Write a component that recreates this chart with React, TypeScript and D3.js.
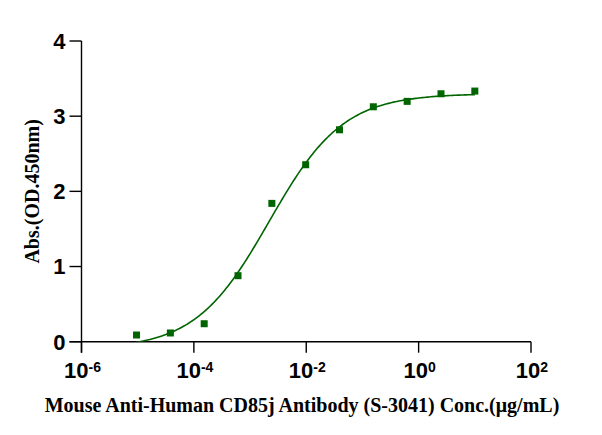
import React from 'react';
import * as d3 from 'd3';

// 4-fold dilution series, µg/mL
const concentrations = [
    0.0000095367, 0.0000381470, 0.000152588, 0.000610352, 0.00244141, 0.00976563,
    0.0390625, 0.15625, 0.625, 2.5, 10,
];
const absorbance = [0.089, 0.116, 0.239, 0.878, 1.84, 2.354, 2.819, 3.125, 3.197, 3.298, 3.334];

const xTickExponents = [-6, -4, -2, 0, 2];
const yTicks = [0, 1, 2, 3, 4];

// four-parameter logistic fit
const fitTop = 3.3;
const fitBottom = -0.1;
const fitLogEC50 = -2.66;
const fitHill = 0.66;

const width = 602;
const height = 435;
const green = '#006400';

const fourPL = (c: number) =>
    fitBottom + (fitTop - fitBottom) / (1 + Math.pow(10, fitHill * (fitLogEC50 - Math.log10(c))));

const App: React.FC = () => {
    const x = d3.scaleLog().domain([1e-6, 1e2]).range([81.5, 531]);
    const y = d3.scaleLinear().domain([0, 4]).range([341.7, 41]);

    const lo = Math.log10(d3.min(concentrations)!);
    const hi = Math.log10(d3.max(concentrations)!);
    const curveX = d3.range(0, 201).map(i => Math.pow(10, lo + ((hi - lo) * i) / 200));
    const line = d3
        .line<number>()
        .x(c => x(c))
        .y(c => y(fourPL(c)))
        .curve(d3.curveLinear);

    const tick = 12;
    const sq = 7;

    return (
        <svg
            width={width}
            height={height}
            style={{ position: 'absolute', left: 0, top: 0, background: '#fff' }}
        >
            <defs>
                <clipPath id="plot">
                    <rect x={x(1e-6)} y={0} width={x(1e2) - x(1e-6)} height={y(0)} />
                </clipPath>
            </defs>

            {/* axes */}
            <g stroke="#000" strokeWidth={1.4} fill="none">
                <line x1={x(1e-6)} x2={x(1e-6)} y1={y(4)} y2={y(0) + 11} />
                <line x1={x(1e-6) - tick} x2={x(1e2)} y1={y(0)} y2={y(0)} />
                {yTicks.map(t => (
                    <line key={t} x1={x(1e-6) - tick} x2={x(1e-6)} y1={y(t)} y2={y(t)} />
                ))}
                {xTickExponents.map(e => (
                    <line key={e} x1={x(10 ** e)} x2={x(10 ** e)} y1={y(0)} y2={y(0) + 11} />
                ))}
            </g>

            <g fontFamily="'Liberation Sans', Arial, sans-serif" fontWeight="bold" fill="#000">
                {yTicks.map(t => (
                    <text key={t} x={x(1e-6) - tick - 4} y={y(t)} dy="0.36em" textAnchor="end" fontSize={22}>
                        {t}
                    </text>
                ))}
                {xTickExponents.map(e => (
                    <text key={e} x={x(10 ** e) + 1} y={377.5} textAnchor="middle" fontSize={22}>
                        10
                        <tspan fontSize={14} dy={-6}>
                            {e < 0 ? `-${-e}` : `${e}`}
                        </tspan>
                    </text>
                ))}
            </g>

            {/* fitted curve */}
            <path
                d={line(curveX) ?? ''}
                fill="none"
                stroke={green}
                strokeWidth={1.6}
                clipPath="url(#plot)"
            />

            {/* data points */}
            {concentrations.map((c, i) => (
                <rect
                    key={i}
                    x={x(c) - sq / 2}
                    y={y(absorbance[i]) - sq / 2}
                    width={sq}
                    height={sq}
                    fill={green}
                />
            ))}

            <g fontFamily="'Liberation Serif', 'Times New Roman', serif" fontWeight="bold" fontSize={20} fill="#000">
                <text
                    transform={`translate(39,${(y(0) + y(4)) / 2}) rotate(-90)`}
                    textAnchor="middle"
                >
                    Abs.(OD.450nm)
                </text>
                <text x={302} y={412} textAnchor="middle">
                    Mouse Anti-Human CD85j Antibody (S-3041) Conc.(μg/mL)
                </text>
            </g>
        </svg>
    );
};

export default App;
